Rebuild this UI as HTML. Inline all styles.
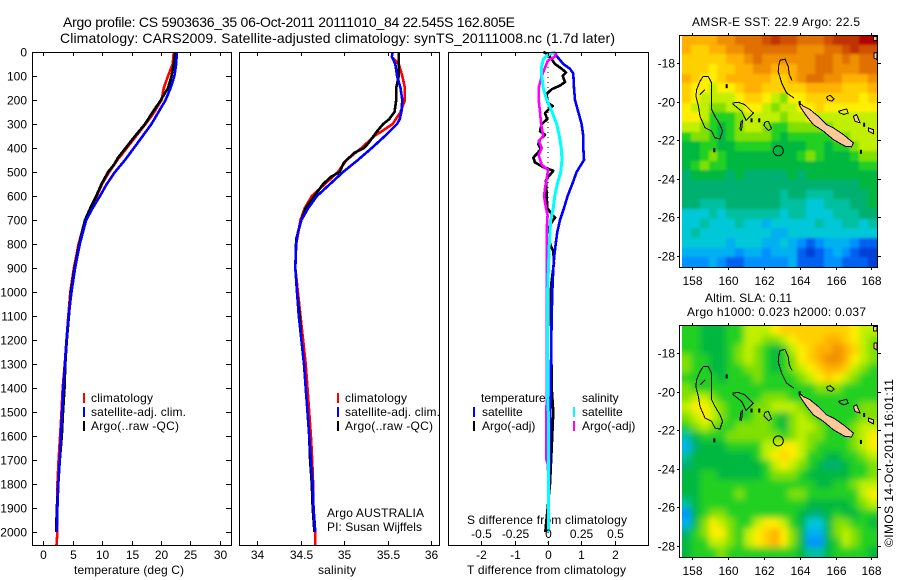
<!DOCTYPE html>
<html>
<head>
<meta charset="utf-8">
<title>Argo profile</title>
<style>
html,body{margin:0;padding:0;background:#fff;}
svg{display:block;}
text{font-family:"Liberation Sans",sans-serif;font-size:12px;fill:#000;}
.t14{font-size:14px;}
</style>
</head>
<body>
<svg id="fig" width="900" height="580" viewBox="0 0 900 580" xmlns="http://www.w3.org/2000/svg">
<defs>
<filter id="soft-sst" x="-10%" y="-10%" width="120%" height="120%"><feGaussianBlur stdDeviation="1.4"/></filter>
<filter id="soft-sla" x="-10%" y="-10%" width="120%" height="120%"><feGaussianBlur stdDeviation="3.5"/></filter>
<clipPath id="clip-sst"><rect x="682" y="35" width="195" height="232"/></clipPath>
<clipPath id="clip-sla"><rect x="682" y="325" width="195" height="232"/></clipPath>
</defs>
<rect x="0" y="0" width="900" height="580" fill="#fff"/>
<text class="t14" x="63" y="27" textLength="452">Argo profile: CS 5903636_35 06-Oct-2011 20111010_84 22.545S 162.805E</text>
<text class="t14" x="60" y="43" textLength="555">Climatology: CARS2009. Satellite-adjusted climatology: synTS_20111008.nc (1.7d later)</text>
<text x="74" y="574" textLength="110">temperature (deg C)</text>
<text x="318" y="574" textLength="38">salinity</text>
<text x="467" y="574" textLength="159">T difference from climatology</text>
<text x="467" y="524" textLength="160">S difference from climatology</text>
<text x="91" y="402" textLength="62">climatology</text>
<text x="91" y="416" textLength="95">satellite-adj. clim.</text>
<text x="91" y="430" textLength="88">Argo(..raw -QC)</text>
<text x="345" y="402" textLength="62">climatology</text>
<text x="345" y="416" textLength="95">satellite-adj. clim.</text>
<text x="345" y="430" textLength="88">Argo(..raw -QC)</text>
<text x="327" y="517" textLength="97">Argo AUSTRALIA</text>
<text x="327" y="531" textLength="95">PI: Susan Wijffels</text>
<text x="481" y="402">temperature</text>
<text x="482" y="416">satellite</text>
<text x="482" y="430">Argo(-adj)</text>
<text x="582" y="402">salinity</text>
<text x="582" y="416">satellite</text>
<text x="582" y="430">Argo(-adj)</text>
<text x="692" y="26" textLength="168">AMSR-E SST: 22.9 Argo: 22.5</text>
<text x="705" y="302" textLength="87">Altim. SLA: 0.11</text>
<text x="687" y="316" textLength="179">Argo h1000: 0.023 h2000: 0.037</text>
<text transform="translate(893,547) rotate(-90)" textLength="168">©IMOS 14-Oct-2011 16:01:11</text>
</svg>
<script>
// ---------- tick labels ----------
var depthTicks = [0,100,200,300,400,500,600,700,800,900,1000,1100,1200,1300,1400,1500,1600,1700,1800,1900,2000];
var tempTicks = [0,5,10,15,20,25,30];
var salTicks = [34,34.5,35,35.5,36];
var tDiffTicks = [-2,-1,0,1,2];
var sDiffTicks = [-0.5,-0.25,0,0.25,0.5];
var lonTicks = [158,160,162,164,166,168];
var latTicks = [-18,-20,-22,-24,-26,-28];

// ---------- temperature panel ----------
var tClimDepth = [0,50,100,150,200,250,300,350,400,450,500,550,600,650,700,800,900,1000,1100,1200,1300,1400,1500,1600,1700,1800,1900,2000,2054];
var tClim = [22.2,22.0,21.2,20.5,20.1,18.9,17.4,15.8,14.2,12.6,11.2,10.0,9.1,8.0,7.1,6.0,5.2,4.6,4.25,3.95,3.65,3.3,3.1,2.85,2.6,2.4,2.35,2.4,2.25];
var tArgoDepth = [0,50,100,150,200,250,300,350,400,440,470,500,550,600,650,700,800,900,1000,1100,1200,1300,1400,1500,1600,1700,1800,1900,2000];
var tArgo = [22.4,22.2,21.8,21.2,20.0,18.6,17.3,15.6,14.0,12.7,12.0,11.0,9.9,9.0,8.0,7.1,6.1,5.3,4.7,4.35,4.0,3.75,3.6,3.35,3.15,2.8,2.55,2.3,2.2];
var tSatDepth = [0,50,100,150,200,300,400,450,500,550,600,650,700,800,900,1000,1100,1200,1300,1400,1500,1600,1700,1800,1900,2000];
var tSat = [22.7,22.6,22.3,21.65,20.8,18.4,15.4,13.9,12.2,10.8,9.64,8.4,7.3,6.2,5.4,4.8,4.3,3.95,3.65,3.4,3.2,3.0,2.8,2.55,2.4,2.3];

// ---------- salinity panel ----------
var sClimDepth = [25,50,100,150,200,250,300,350,400,450,500,550,600,650,700,800,900,1000,1100,1200,1300,1400,1500,1600,1700,1800,1900,2000,2054];
var sClim = [35.56,35.63,35.67,35.7,35.7,35.65,35.56,35.35,35.2,35.03,34.93,34.78,34.63,34.55,34.5,34.45,34.44,34.47,34.5,34.53,34.56,34.58,34.6,34.62,34.635,34.645,34.65,34.67,34.67];
var sArgoDepth = [0,100,150,200,250,280,300,330,350,380,400,420,460,500,520,550,600,650,700,780,900,1000,1100,1200,1300,1400,1500,1600,1700,1800,1900,2000];
var sArgo = [35.63,35.63,35.6,35.6,35.58,35.52,35.45,35.38,35.34,35.28,35.23,35.12,35.0,34.95,34.85,34.76,34.66,34.56,34.51,34.45,34.44,34.46,34.49,34.51,34.54,34.56,34.58,34.6,34.61,34.63,34.64,34.66];
var sSatDepth = [0,20,50,100,150,200,250,280,300,350,400,450,500,550,600,650,700,750,800,900,1000,1100,1200,1300,1400,1500,1600,1700,1800,1900,2000];
var sSat = [35.56,35.55,35.59,35.61,35.65,35.67,35.66,35.64,35.61,35.47,35.32,35.16,34.99,34.84,34.69,34.59,34.51,34.47,34.45,34.44,34.46,34.48,34.51,34.54,34.56,34.58,34.6,34.62,34.64,34.65,34.67];

// ---------- difference panel ----------
var dtSatDepth = [0,50,70,90,150,200,250,300,350,400,450,500,550,600,650,700,750,800,850,900,1000,1100,1200,1300,1400,1500,1600,1700,1800,1900,2000];
var dtSat = [0.16,0.46,0.66,0.76,0.78,0.81,0.91,1.01,1.06,1.06,1.08,0.86,0.73,0.59,0.48,0.36,0.28,0.23,0.19,0.16,0.13,0.11,0.1,0.09,0.08,0.07,0.06,0.05,0.03,0.02,0.01];
var dtArgoDepth = [0,10,30,50,70,85,100,125,140,155,175,210,225,240,255,280,300,330,345,365,385,405,425,440,460,480,495,520,535,600,650,670,690,710,730,800,830,880,950,1000,1400,1500,1650,1800,1970,2000];
var dtArgo = [-0.14,0.01,0.11,0.21,0.41,0.54,0.44,0.51,0.36,0.11,-0.04,-0.02,0.14,0.01,-0.09,-0.02,-0.19,-0.24,-0.09,-0.24,-0.29,-0.22,-0.34,-0.44,-0.39,-0.14,0.16,0.01,-0.06,-0.04,-0.02,0.08,0.21,0.11,0.04,0.06,0.16,0.18,0.11,0.08,0.11,0.16,0.11,0.06,-0.06,-0.08];
var dsArgoDepth = [0,20,35,100,150,200,250,300,350,370,400,430,470,490,530,560,600,650,680,700,740,850,1000,1700,1720,2000];
var dsArgo = [0.065,0.05,0,-0.047,-0.07,-0.07,-0.06,-0.052,-0.035,-0.07,-0.047,-0.07,-0.047,0,-0.01,-0.02,-0.03,-0.015,-0.003,-0.005,-0.01,-0.01,-0.008,-0.012,0,0.005];
var dsSatDepth = [0,15,30,60,100,150,200,250,300,350,400,450,500,550,600,650,700,750,800,1000,1400,1500,1700,2000];
var dsSat = [0.05,-0.01,-0.035,-0.047,-0.047,-0.035,-0.01,0.03,0.065,0.085,0.1,0.105,0.095,0.07,0.05,0.04,0.02,0.015,0.01,-0.003,-0.005,0.002,0.004,0.003];

// ---------- map heat values (colour level per half-degree cell, north to south) ----------
var sstRows = [
[13,13,13,13,14,14,15,15,15,16,17,16,16,15,15,15,16,17,17,17,18,18],
[13,12,12,13,13,14,14,15,15,15,15,15,15,14,14,14,15,15,16,17,16,16],
[12,12,12,12,12,13,13,14,15,14,14,14,14,14,14,15,15,14,15,14,15,15],
[12,12,12,11,12,12,13,13,14,14,13,13,13,14,14,15,15,14,14,14,15,15],
[13,12,11,11,12,13,13,13,13,13,12,12,13,14,15,15,14,14,13,13,13,14],
[12,11,11,10,11,11,12,13,13,12,12,12,12,12,13,13,13,13,12,12,12,13],
[12,11,10,10,10,10,11,12,12,11,10,9,11,11,12,12,12,12,12,12,11,12],
[11,10,10,9,9,10,10,11,11,10,9,10,10,11,11,12,11,11,11,11,11,11],
[11,11,10,8,8,8,9,10,10,10,10,9,10,10,11,10,10,10,10,10,10,10],
[10,10,9,8,7,8,9,10,10,9,8,8,9,9,9,9,9,10,10,10,10,10],
[8,9,9,8,7,8,9,9,9,9,8,7,8,8,8,8,8,9,9,10,10,10],
[7,7,8,8,7,7,8,8,8,8,7,7,7,7,8,8,7,8,8,9,10,10],
[7,7,8,9,8,7,7,7,7,7,7,7,7,8,9,8,7,7,7,8,9,9],
[7,8,9,8,8,7,7,7,7,7,7,7,7,7,7,7,7,7,7,7,8,8],
[6,7,7,7,7,6,7,6,6,6,6,6,7,6,7,7,7,7,7,7,7,7],
[6,6,6,6,6,6,6,6,6,6,6,6,6,6,6,6,6,6,6,6,7,7],
[6,6,6,6,6,6,6,6,6,6,6,5,6,6,5,5,5,6,6,6,6,7],
[6,6,5,5,5,6,6,6,6,6,6,5,5,5,4,4,5,5,5,6,6,7],
[4,4,4,5,4,5,5,5,5,5,5,4,5,5,4,4,4,5,5,5,6,6],
[4,4,5,4,4,4,5,4,4,3,4,4,4,4,4,5,4,4,5,5,4,5],
[4,5,4,4,4,4,4,4,4,4,3,3,4,4,4,4,4,4,4,4,4,4],
[4,4,4,4,4,3,4,4,4,3,3,4,3,2,1,2,3,3,3,2,1,1],
[3,3,3,3,3,3,2,3,3,2,3,3,3,1,0,1,2,3,2,1,0,0],
[2,2,2,3,2,1,1,2,2,2,2,2,3,1,1,1,2,2,1,1,1,0]
];
var slaRows = [
[8,8,7,7,7,8,8,10,10,10,11,12,12,12,12,12,12,12,12,11,10,10],
[8,8,7,7,7,8,8,10,10,9,9,10,11,12,12,12,13,13,12,11,10,9],
[8,8,7,7,7,8,9,10,9,8,7,8,10,11,12,13,13,14,13,12,10,9],
[9,8,8,7,7,8,9,10,9,8,7,8,9,11,12,13,14,14,13,11,10,9],
[9,8,8,7,7,8,8,9,9,8,7,8,9,10,11,12,13,13,12,10,9,8],
[8,8,8,8,7,8,8,8,9,8,8,8,8,9,10,11,12,11,10,9,8,8],
[9,8,8,8,8,8,8,8,8,8,8,8,8,8,8,9,9,9,8,8,8,8],
[9,10,10,9,8,8,8,8,8,9,9,9,8,8,8,8,8,8,8,8,8,8],
[10,11,11,10,9,8,8,8,9,9,10,10,10,9,8,8,8,8,8,8,9,9],
[9,10,11,10,9,8,8,8,9,9,8,7,9,10,9,8,8,8,8,8,9,9],
[8,9,10,9,8,8,9,9,9,9,8,7,9,10,10,9,8,8,8,9,10,10],
[5,7,8,8,8,9,9,9,9,9,9,8,9,10,9,9,8,8,8,9,10,11],
[3,6,7,7,7,8,8,8,8,10,10,11,11,10,9,8,8,8,8,9,10,11],
[5,7,7,7,7,7,7,7,8,10,11,12,11,10,8,8,7,7,8,8,9,10],
[6,7,7,7,7,7,7,7,7,8,10,11,10,9,8,7,6,6,7,8,8,9],
[7,7,8,8,7,7,7,7,7,8,9,9,9,8,7,7,7,7,7,8,8,9],
[7,7,8,8,8,8,8,8,8,8,8,8,8,8,8,7,7,8,8,9,10,10],
[7,7,8,8,8,8,9,8,8,8,8,8,9,9,8,8,8,8,8,8,10,11],
[5,7,8,8,8,8,8,8,8,8,8,8,8,8,7,7,7,7,7,8,9,10],
[2,7,8,9,9,8,8,8,8,8,8,8,8,7,6,6,7,8,7,7,8,8],
[3,7,9,11,10,9,8,8,10,11,11,10,8,7,4,4,7,9,9,8,8,7],
[6,8,9,11,11,9,8,10,11,12,13,11,9,7,3,3,7,9,10,9,8,8],
[7,8,8,10,10,9,8,10,11,12,13,11,9,7,2,2,7,8,10,9,8,8],
[7,8,8,8,9,8,8,8,8,8,8,8,8,7,5,5,7,8,8,8,8,7]
];
var palette = ['#0040d8','#0060f0','#0090ff','#00b0f0','#00c8d8','#00c0a0','#00b070','#00b840','#20d020','#80e000','#c0f000','#ffee00','#ffd000','#ffb000','#f09000','#e07000','#d05000','#c03000','#b00000'];

// ---------- map coastlines (lon, lat pairs) and argo position ----------
var argoLon = 162.805;
var argoLat = -22.545;
var coastOpen = [
[[158.61,-18.69],[158.89,-18.69],[159.08,-19.03],[159.08,-19.38],[159.08,-20.41],[159.27,-20.76],[159.55,-21.19],[159.69,-21.53],[159.55,-21.93],[159.27,-21.88],[159.08,-21.53],[158.71,-21.36],[158.43,-20.76],[158.34,-20.24],[158.2,-19.72],[158.24,-19.38],[158.43,-18.95],[158.61,-18.69]],
[[158.43,-19.64],[158.71,-19.38]],
[[160.25,-20.07],[160.57,-20.03],[160.94,-20.16],[161.41,-20.59],[161.0,-20.97],[160.76,-20.5],[160.25,-20.12]],
[[160.66,-21.45],[160.72,-21.05],[160.81,-20.97],[160.75,-21.48],[160.66,-21.45]],
[[162.06,-21.05],[162.25,-21.02],[162.43,-21.4],[162.25,-21.5],[162.0,-21.24],[162.06,-21.05]],
[[162.82,-18.17],[162.9,-17.86],[163.18,-17.8],[163.36,-18.17],[163.42,-18.6],[163.57,-18.9]],
[[162.82,-18.17],[162.8,-18.43],[162.99,-19.03],[163.27,-19.55],[163.68,-19.81]],
[[165.5,-19.76],[165.69,-19.67],[165.93,-19.86],[165.78,-19.98],[165.56,-19.9],[165.5,-19.76]],
[[166.16,-20.5],[166.62,-20.38],[166.71,-20.59],[166.47,-20.67],[166.25,-20.59],[166.16,-20.5]]
];
var coastFilled = [
[[163.98,-20.07],[164.2,-20.24],[164.57,-20.41],[165.04,-20.76],[165.5,-21.19],[165.88,-21.36],[166.44,-21.71],[167.0,-22.14],[166.9,-22.34],[166.53,-22.31],[165.88,-21.97],[165.32,-21.53],[164.76,-21.19],[164.39,-20.76],[164.01,-20.24]],
[[167.0,-20.76],[167.18,-20.67],[167.37,-21.1],[167.09,-21.02],[167.0,-20.76]],
[[167.83,-21.36],[168.11,-21.45],[168.11,-21.66],[167.83,-21.53],[167.83,-21.36]],
[[168.11,-16.62],[168.33,-16.62],[168.33,-16.83],[168.11,-16.83],[168.11,-16.62]],
[[168.15,-17.48],[168.33,-17.45],[168.33,-17.83],[168.15,-17.74],[168.15,-17.48]]
];
var coastBlobs = [
[159.92,-19.2],[159.23,-22.52],[167.42,-22.6],[161.31,-20.97],[161.74,-20.97],[164.0,-20.07],[167.6,-21.2]
];

// ---------- scales ----------
function depthY(d){ return 52 + d * 0.24; }
function tempX(v){ return 43.3 + v * 5.88; }
function salX(v){ return 257 + (v - 34) * 87; }
function tDiffX(v){ return 548 + v * 33.3; }
function sDiffX(v){ return 548 + v * 133.3; }
function lonX(v){ return 692.3 + (v - 158) * 17.9; }
function latY1(v){ return 63 + (-18 - v) * 19.3; }
function latY2(v){ return 353.3 + (-18 - v) * 19.27; }

var svg = document.getElementById('fig');
var NS = 'http://www.w3.org/2000/svg';
function el(tag, parent){
  var e = document.createElementNS(NS, tag);
  (parent || svg).appendChild(e);
  return e;
}
function tick(x1, y1, x2, y2){
  var l = el('line');
  l.setAttribute('x1', x1);
  l.setAttribute('y1', y1);
  l.setAttribute('x2', x2);
  l.setAttribute('y2', y2);
  l.setAttribute('stroke', '#000');
  l.setAttribute('shape-rendering', 'crispEdges');
  
  
}
function label(x, y, s, anchor){
  var t = el('text');
  t.setAttribute('x', x);
  t.setAttribute('y', y);
  t.setAttribute('text-anchor', anchor);
  t.textContent = s;
  
  
}
function frame(x, y, w, h, name){
  var r = el('rect');
  r.setAttribute('x', x);
  r.setAttribute('y', y);
  r.setAttribute('width', w);
  r.setAttribute('height', h);
  r.setAttribute('fill', 'none');
  r.setAttribute('stroke', '#000');
  r.setAttribute('shape-rendering', 'crispEdges');
  
  
}
function series(xs, ds, xf, color, name, w){
  var p = el('polyline');
  var pts = [];
  for (var i = 0; i < xs.length; i++) {
    pts.push(xf(xs[i]).toFixed(1) + ',' + depthY(ds[i]).toFixed(1));
  }
  p.setAttribute('points', pts.join(' '));
  p.setAttribute('fill', 'none');
  p.setAttribute('stroke', color);
  p.setAttribute('stroke-width', w || 2.6);
  p.setAttribute('stroke-linejoin', 'round');
  p.setAttribute('shape-rendering', 'crispEdges');
  
  
}
function legendBar(x, y, color, name){
  var r = el('rect');
  r.setAttribute('x', x);
  r.setAttribute('y', y);
  r.setAttribute('width', 2);
  r.setAttribute('height', 10);
  r.setAttribute('fill', color);
  
  
}

// ---------- profile panels ----------
series(tClim, tClimDepth, tempX, '#ff0000', 'temperature-climatology-line');
series(tArgo, tArgoDepth, tempX, '#000000', 'temperature-argo-line');
series(tSat, tSatDepth, tempX, '#0000ff', 'temperature-satellite-line');
series(sClim, sClimDepth, salX, '#ff0000', 'salinity-climatology-line');
series(sArgo, sArgoDepth, salX, '#000000', 'salinity-argo-line');
series(sSat, sSatDepth, salX, '#0000ff', 'salinity-satellite-line');

var zero = el('line');
zero.setAttribute('x1', tDiffX(0));
zero.setAttribute('y1', depthY(0));
zero.setAttribute('x2', tDiffX(0));
zero.setAttribute('y2', depthY(2054));
zero.setAttribute('stroke', '#000');
zero.setAttribute('stroke-dasharray', '1 4');
zero.setAttribute('shape-rendering', 'crispEdges');



series(dtArgo, dtArgoDepth, tDiffX, '#000000', 'temperature-argo-difference-line');
series(dtSat, dtSatDepth, tDiffX, '#0000ff', 'temperature-satellite-difference-line');
series(dsArgo, dsArgoDepth, sDiffX, '#ff00ff', 'salinity-argo-difference-line');
series(dsSat, dsSatDepth, sDiffX, '#00ffff', 'salinity-satellite-difference-line', 3);

frame(32.5, 52.5, 199, 493, 'temperature-panel-frame');
frame(239.5, 52.5, 200, 493, 'salinity-panel-frame');
frame(448.5, 52.5, 200, 493, 'difference-panel-frame');

depthTicks.forEach(function(d){
  var y = Math.round(depthY(d)) + 0.5;
  if (d > 0) {
    tick(32, y, 37, y);
    tick(226, y, 231, y);
  }
  label(27, y + 4, d, 'end');
});
function xTicks(list, xf, labelY, top, bottom){
  list.forEach(function(v){
    var x = Math.round(xf(v)) + 0.5;
    if (top) tick(x, 52, x, 56);
    if (bottom) tick(x, 541, x, 545);
    if (labelY) label(x, labelY, v, 'middle');
  });
}
xTicks(tempTicks, tempX, 559, true, true);
xTicks(salTicks, salX, 559, true, true);
xTicks(tDiffTicks, tDiffX, 559, true, true);
xTicks(sDiffTicks, sDiffX, 538, false, false);

legendBar(83, 393, '#ff0000', 'legend-climatology-swatch');
legendBar(83, 407, '#0000ff', 'legend-satellite-swatch');
legendBar(83, 421, '#000000', 'legend-argo-swatch');
legendBar(337, 393, '#ff0000', 'legend-climatology-salinity-swatch');
legendBar(337, 407, '#0000ff', 'legend-satellite-salinity-swatch');
legendBar(337, 421, '#000000', 'legend-argo-salinity-swatch');
legendBar(473, 407, '#0000ff', 'legend-t-satellite-swatch');
legendBar(473, 421, '#000000', 'legend-t-argo-swatch');
legendBar(573, 407, '#00ffff', 'legend-s-satellite-swatch');
legendBar(573, 421, '#ff00ff', 'legend-s-argo-swatch');

// ---------- maps ----------
function heat(rows, top, height, name, clipId, filterId){
  var nr = rows.length;
  var left = 682;
  var width = 195;
  var outer = el('g');
  outer.setAttribute('clip-path', 'url(#' + clipId + ')');
  
  
  var layer = el('g', outer);
  layer.setAttribute('filter', 'url(#' + filterId + ')');
  
  
  for (var r = 0; r < nr; r++) {
    var nc = rows[r].length;
    for (var c = 0; c < nc; c++) {
      var x0 = Math.round(left + c * width / nc) - (c === 0 ? 14 : 0);
      var x1 = Math.round(left + (c + 1) * width / nc) + (c === nc - 1 ? 14 : 0);
      var y0 = Math.round(top + r * height / nr) - (r === 0 ? 14 : 0);
      var y1 = Math.round(top + (r + 1) * height / nr) + (r === nr - 1 ? 14 : 0);
      var cell = el('rect', layer);
      cell.setAttribute('x', x0);
      cell.setAttribute('y', y0);
      cell.setAttribute('width', x1 - x0);
      cell.setAttribute('height', y1 - y0);
      cell.setAttribute('fill', palette[rows[r][c]]);
      cell.setAttribute('shape-rendering', 'crispEdges');
      
      
    }
  }
}
function coast(latY, prefix){
  function toPts(line){
    return line.map(function(p){ return lonX(p[0]).toFixed(1) + ',' + latY(p[1]).toFixed(1); }).join(' ');
  }
  coastFilled.forEach(function(line){
    var f = el('polygon');
    f.setAttribute('points', toPts(line));
    f.setAttribute('fill', '#ffc898');
    f.setAttribute('stroke', '#000');
    f.setAttribute('shape-rendering', 'crispEdges');
    
    
  });
  coastOpen.forEach(function(line){
    var o = el('polyline');
    o.setAttribute('points', toPts(line));
    o.setAttribute('fill', 'none');
    o.setAttribute('stroke', '#000');
    o.setAttribute('shape-rendering', 'crispEdges');
    
    
  });
  coastBlobs.forEach(function(p){
    var b = el('rect');
    b.setAttribute('x', lonX(p[0]) - 1);
    b.setAttribute('y', latY(p[1]) - 2);
    b.setAttribute('width', 2);
    b.setAttribute('height', 4);
    b.setAttribute('fill', '#000');
    
    
  });
  var c = el('circle');
  c.setAttribute('cx', lonX(argoLon));
  c.setAttribute('cy', latY(argoLat));
  c.setAttribute('r', 5);
  c.setAttribute('fill', 'none');
  c.setAttribute('stroke', '#000');
  
  
}
function mapAxes(top, bottom, latY, name){
  frame(679.5, top + 0.5, 198, bottom - top, name);
  lonTicks.forEach(function(v){
    var x = Math.round(lonX(v)) + 0.5;
    tick(x, top - 2, x, top);
    tick(x, bottom + 1, x, bottom + 3);
    label(x, bottom + 18, v, 'middle');
  });
  latTicks.forEach(function(v){
    var y = Math.round(latY(v)) + 0.5;
    tick(878, y, 881, y);
    tick(677, y, 679, y);
    label(675, y + 4, v, 'end');
  });
}
heat(sstRows, 35, 232, 'sst-cell', 'clip-sst', 'soft-sst');
coast(latY1, 'sst-map');
mapAxes(35, 267, latY1, 'sst-map-frame');
heat(slaRows, 325, 232, 'sla-cell', 'clip-sla', 'soft-sla');
coast(latY2, 'sla-map');
mapAxes(325, 557, latY2, 'sla-map-frame');
</script>
</body>
</html>
